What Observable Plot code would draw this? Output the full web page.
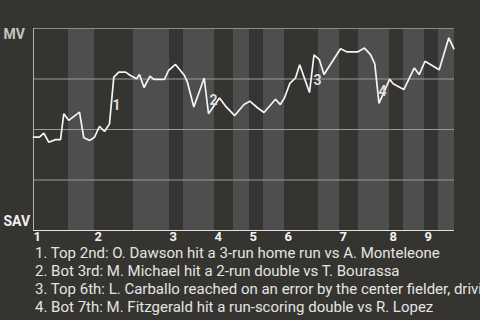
<!DOCTYPE html>
<html><head><meta charset="utf-8">
<script src="https://cdn.jsdelivr.net/npm/d3@7"></script>
<script src="https://cdn.jsdelivr.net/npm/@observablehq/plot@0.6"></script>
<style>
html,body{margin:0;padding:0;background:#363430;width:480px;height:320px;overflow:hidden;font-family:Roboto,sans-serif;}
#chart svg{display:block;}
#caption{color:#e4e4e4;font-size:15px;line-height:18px;padding-left:35px;padding-top:1px;white-space:nowrap;overflow:hidden;width:445px;}
</style></head><body>
<div id="chart"></div>
<div id="caption"></div>
<script>
// Game progress (x) and MV win probability in % (y)
const progress = [0,6,10.3,15.3,22,27,30.3,35.3,46,50.3,56.3,61,66,71,76,80.3,85.3,92,97,103,106,110.5,116.5,120.3,131,135,142,151,154,160.3,170.7,175,186,192,201.2,210.5,216.3,223.7,230.5,242,246.8,251,256.3,262,266.2,276,280.5,285.8,290.5,307,313.7,324,331,337,341.3,345.5,356.2,359.7,370.3,380.8,385.7,391.5,405.7,415.3,420.3];
const winProb = [46.2,46.2,48.2,43.7,45.0,45.0,57.8,54.5,58.6,45.9,44.6,46.2,51.6,49.0,52.8,75.9,78.4,78.4,76.7,75.1,77.2,70.8,76.4,74.8,74.8,79.2,82.2,76.7,73.3,61.1,75.5,57.8,65.6,61.6,56.9,62.4,64.0,60.9,58.4,65.0,62.3,65.7,72.8,75.5,82.1,68.3,87.0,84.6,77.2,90.0,88.4,88.4,90.3,87.1,82.5,62.9,74.9,72.6,69.8,80.5,77.2,83.8,79.6,95.4,90.0];
// Half-inning start positions (top 1st, bot 1st, ..., bot 9th) and game end
const halfStarts = [0,35,61,100,136,150,181,200,216,230,251,285,306,325,356,370,391,405];
const gameEnd = 421;
const innings = ["1","2","3","4","5","6","7","8","9"];
// Key plays
const keyLabels = ["1","2","3","4"];
const keyX = [83,180,284,349];
const keyY = [61.9,64.4,74.3,68.8];
const keyText = [
  "1. Top 2nd: O. Dawson hit a 3-run home run vs A. Monteleone",
  "2. Bot 3rd: M. Michael hit a 2-run double vs T. Bourassa",
  "3. Top 6th: L. Carballo reached on an error by the center fielder, driving in a run",
  "4. Bot 7th: M. Fitzgerald hit a run-scoring double vs R. Lopez"
];
const teams = ["MV","SAV"];
const gridLevels = [25,50,75];

const line = progress.map((x,i)=>({x, y: winProb[i]}));
const bands = [];
for (let i = 1; i < halfStarts.length; i += 2) {
  bands.push({x1: halfStarts[i], x2: i + 1 < halfStarts.length ? halfStarts[i+1] : gameEnd});
}
const innTicks = innings.map((t,i)=>({x: halfStarts[i*2], t}));
const keys = keyLabels.map((t,i)=>({x: keyX[i], y: keyY[i], t}));

const chart = Plot.plot({
  width: 480, height: 243,
  marginLeft: 33, marginRight: 26, marginTop: 28, marginBottom: 13,
  x: {domain: [0, gameEnd], axis: null},
  y: {domain: [0, 100], axis: null},
  style: {background: "transparent", fontFamily: "Roboto, sans-serif", overflow: "visible"},
  marks: [
    Plot.rect(bands, {x1: "x1", x2: "x2", fill: "#4e4e4e"}),
    Plot.ruleY(gridLevels, {stroke: "#9a9a9a", strokeWidth: 1}),
    Plot.ruleY([100], {stroke: "#8a8a8a", strokeWidth: 1}),
    Plot.ruleX([0], {stroke: "#b0b0b0", strokeWidth: 1}),
    Plot.ruleY([0], {stroke: "#e0e0e0", strokeWidth: 1}),
    Plot.line(line, {x: "x", y: "y", stroke: "#f4f4f4", strokeWidth: 1.7, strokeLinejoin: "miter"}),
    Plot.text(keys, {x: "x", y: "y", text: "t", fill: "#dddddd", fontSize: 14, fontWeight: "bold"}),
    Plot.text(innTicks, {x: "x", text: "t", frameAnchor: "bottom", textAnchor: "start", lineAnchor: "top", dy: 1, fill: "#f2f2f2", fontSize: 13, fontWeight: "bold"}),
    Plot.text([teams[0]], {text: d => d, frameAnchor: "top-left", textAnchor: "start", lineAnchor: "top", dx: -30, dy: 1, fill: "#c4c4c4", fontSize: 14, fontWeight: "bold"}),
    Plot.text([teams[1]], {text: d => d, frameAnchor: "bottom-left", textAnchor: "start", lineAnchor: "bottom", dx: -30, dy: -5, fill: "#f0f0f0", fontSize: 14, fontWeight: "bold"})
  ]
});
document.getElementById("chart").appendChild(chart);
const cap = document.getElementById("caption");
keyText.forEach(t => { const d = document.createElement("div"); d.textContent = t; cap.appendChild(d); });
</script>
</body></html>
